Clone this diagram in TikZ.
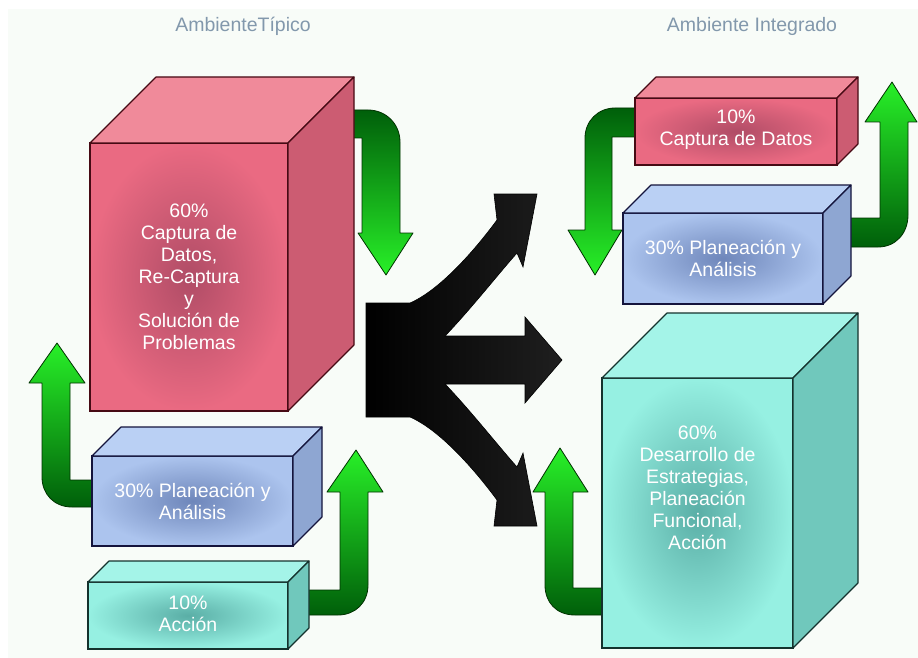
\documentclass[tikz,border=0pt]{standalone}
\usepackage{fontspec}
\setmainfont{Liberation Sans}
\usetikzlibrary{calc}
\definecolor{fondo}{RGB}{248,252,248}
\definecolor{gristit}{RGB}{130,152,172}
\definecolor{rojoF}{RGB}{234,106,130}
\definecolor{rojoC}{RGB}{176,76,102}
\definecolor{rojoT}{RGB}{240,138,154}
\definecolor{rojoL}{RGB}{204,92,114}
\definecolor{rojoB}{RGB}{70,10,20}
\definecolor{azulF}{RGB}{172,196,238}
\definecolor{azulC}{RGB}{110,134,186}
\definecolor{azulT}{RGB}{186,208,244}
\definecolor{azulL}{RGB}{142,166,210}
\definecolor{azulB}{RGB}{20,20,60}
\definecolor{cianF}{RGB}{150,240,226}
\definecolor{cianC}{RGB}{90,174,166}
\definecolor{cianT}{RGB}{164,244,232}
\definecolor{cianL}{RGB}{112,200,188}
\definecolor{cianB}{RGB}{20,50,45}
\definecolor{verdeO}{RGB}{0,95,10}
\definecolor{verdeC}{RGB}{40,240,40}
\definecolor{verdeB}{RGB}{0,50,0}
\tikzset{
  cara/.style  ={shade,inner color=#1C,outer color=#1F,draw=#1B,line width=1.1pt,
                 inner sep=0pt,outer sep=0pt},
  tapa/.style  ={fill=#1T,draw=#1B,line width=1.1pt,line join=round},
  lado/.style  ={fill=#1L,draw=#1B,line width=1.1pt,line join=round},
  texto/.style ={text=white,align=center,font=\fontsize{19.5}{22}\selectfont,inner sep=0pt},
  titulo/.style={text=gristit,font=\fontsize{19.5}{22}\selectfont,inner sep=1pt},
  baja/.style  ={top color=verdeO,bottom color=verdeC,draw=verdeB,line width=0.8pt,line join=round},
  sube/.style  ={top color=verdeC,bottom color=verdeO,draw=verdeB,line width=0.8pt,line join=round},
  horca/.style ={left color=black,right color=black!88,draw=black,line width=0.6pt},
}
% box: name, centre, width, height, depth, colour, text, text shift
\newcommand{\caja}[8]{%
  \node[cara=#6,minimum width=#3,minimum height=#4] (#1) at (#2) {};
  \path[tapa=#6] (#1.north west) -- ++(#5,-#5) -- ([shift={(#5,-#5)}]#1.north east)
        -- (#1.north east) -- cycle;
  \path[lado=#6] (#1.north east) -- ++(#5,-#5) -- ([shift={(#5,-#5)}]#1.south east)
        -- (#1.south east) -- cycle;
  \node[texto] (#1-txt) at ([yshift=#8]#1.center) {#7};
}

\begin{document}
\begin{tikzpicture}[x=1pt,y=-1pt]
\useasboundingbox (0,0) rectangle (918,658);
\fill[white] (0,0) rectangle (918,658);
\fill[fondo] (8,9) rectangle (918,658);
%% titles
\node[titulo] (tituloIzq) at (243,26) {AmbienteTípico};
\node[titulo] (tituloDer) at (752,26) {Ambiente Integrado};
%% green bent arrows (behind the boxes)
\path[baja] (350,110) -- (368,110) .. controls (386,110) and (400,124) .. (400,142)
      -- (400,233) -- (413,233) -- (386,275) -- (358,233) -- (362,233) -- (362,138)
      -- (350,138) -- cycle;
\path[sube] (98,480) -- (70,480) -- (70,383) -- (85,383) -- (57,343) -- (29,383)
      -- (42,383) -- (42,477) .. controls (42,494) and (54,507) .. (72,507)
      -- (98,507) -- cycle;
\path[sube] (305,590) -- (340,590) -- (340,492) -- (327,492) -- (356,450) -- (383,492)
      -- (368,492) -- (368,585) .. controls (368,603) and (355,615) .. (338,615)
      -- (305,615) -- cycle;
\path[baja] (640,108) -- (615,108) .. controls (598,108) and (585,121) .. (585,138)
      -- (585,230) -- (568,230) -- (595,275) -- (622,230) -- (612,230) -- (612,137)
      -- (640,137) -- cycle;
\path[sube] (845,218) -- (880,218) -- (880,122) -- (865,122) -- (892,82) -- (917,122)
      -- (908,122) -- (908,215) .. controls (908,233) and (896,247) .. (878,247)
      -- (845,247) -- cycle;
\path[sube] (608,588) -- (573,588) -- (573,492) -- (588,492) -- (560,448) -- (533,492)
      -- (545,492) -- (545,585) .. controls (545,602) and (556,615) .. (575,615)
      -- (608,615) -- cycle;
%% black three-way arrow
\path[horca] (366,303) -- (410,303) .. controls (440,290) and (475,250) .. (497,220)
      -- (494,194) -- (537,194) -- (523,267) -- (517,253)
      .. controls (500,272) and (470,310) .. (445,336)
      -- (525,336) -- (525,317) -- (562,360) -- (525,403) -- (525,384) -- (445,384)
      .. controls (470,410) and (500,448) .. (517,467)
      -- (523,453) -- (537,526) -- (494,526) -- (497,500)
      .. controls (475,470) and (440,430) .. (410,417)
      -- (366,417) -- cycle;
%% left: typical environment
\caja{rojoIzq}{189,277}{198}{268}{66}{rojo}{60\%\\Captura de\\Datos,\\Re-Captura\\y\\Solución de\\Problemas}{0}
\caja{azulIzq}{192.5,501}{201}{90}{29}{azul}{30\% Planeación y\\Análisis}{0}
\caja{cianIzq}{188,615.5}{200}{67}{21}{cian}{10\%\\Acción}{2}
%% right: integrated environment
\caja{rojoDer}{736,131.5}{202}{67}{21}{rojo}{10\%\\Captura de Datos}{2}
\caja{azulDer}{723,258.5}{200}{91}{28}{azul}{30\% Planeación y\\Análisis}{0}
\caja{cianDer}{697.5,513}{191}{270}{65}{cian}{60\%\\Desarrollo de\\Estrategias,\\Planeación\\Funcional,\\Acción}{25}
\end{tikzpicture}
\end{document}
